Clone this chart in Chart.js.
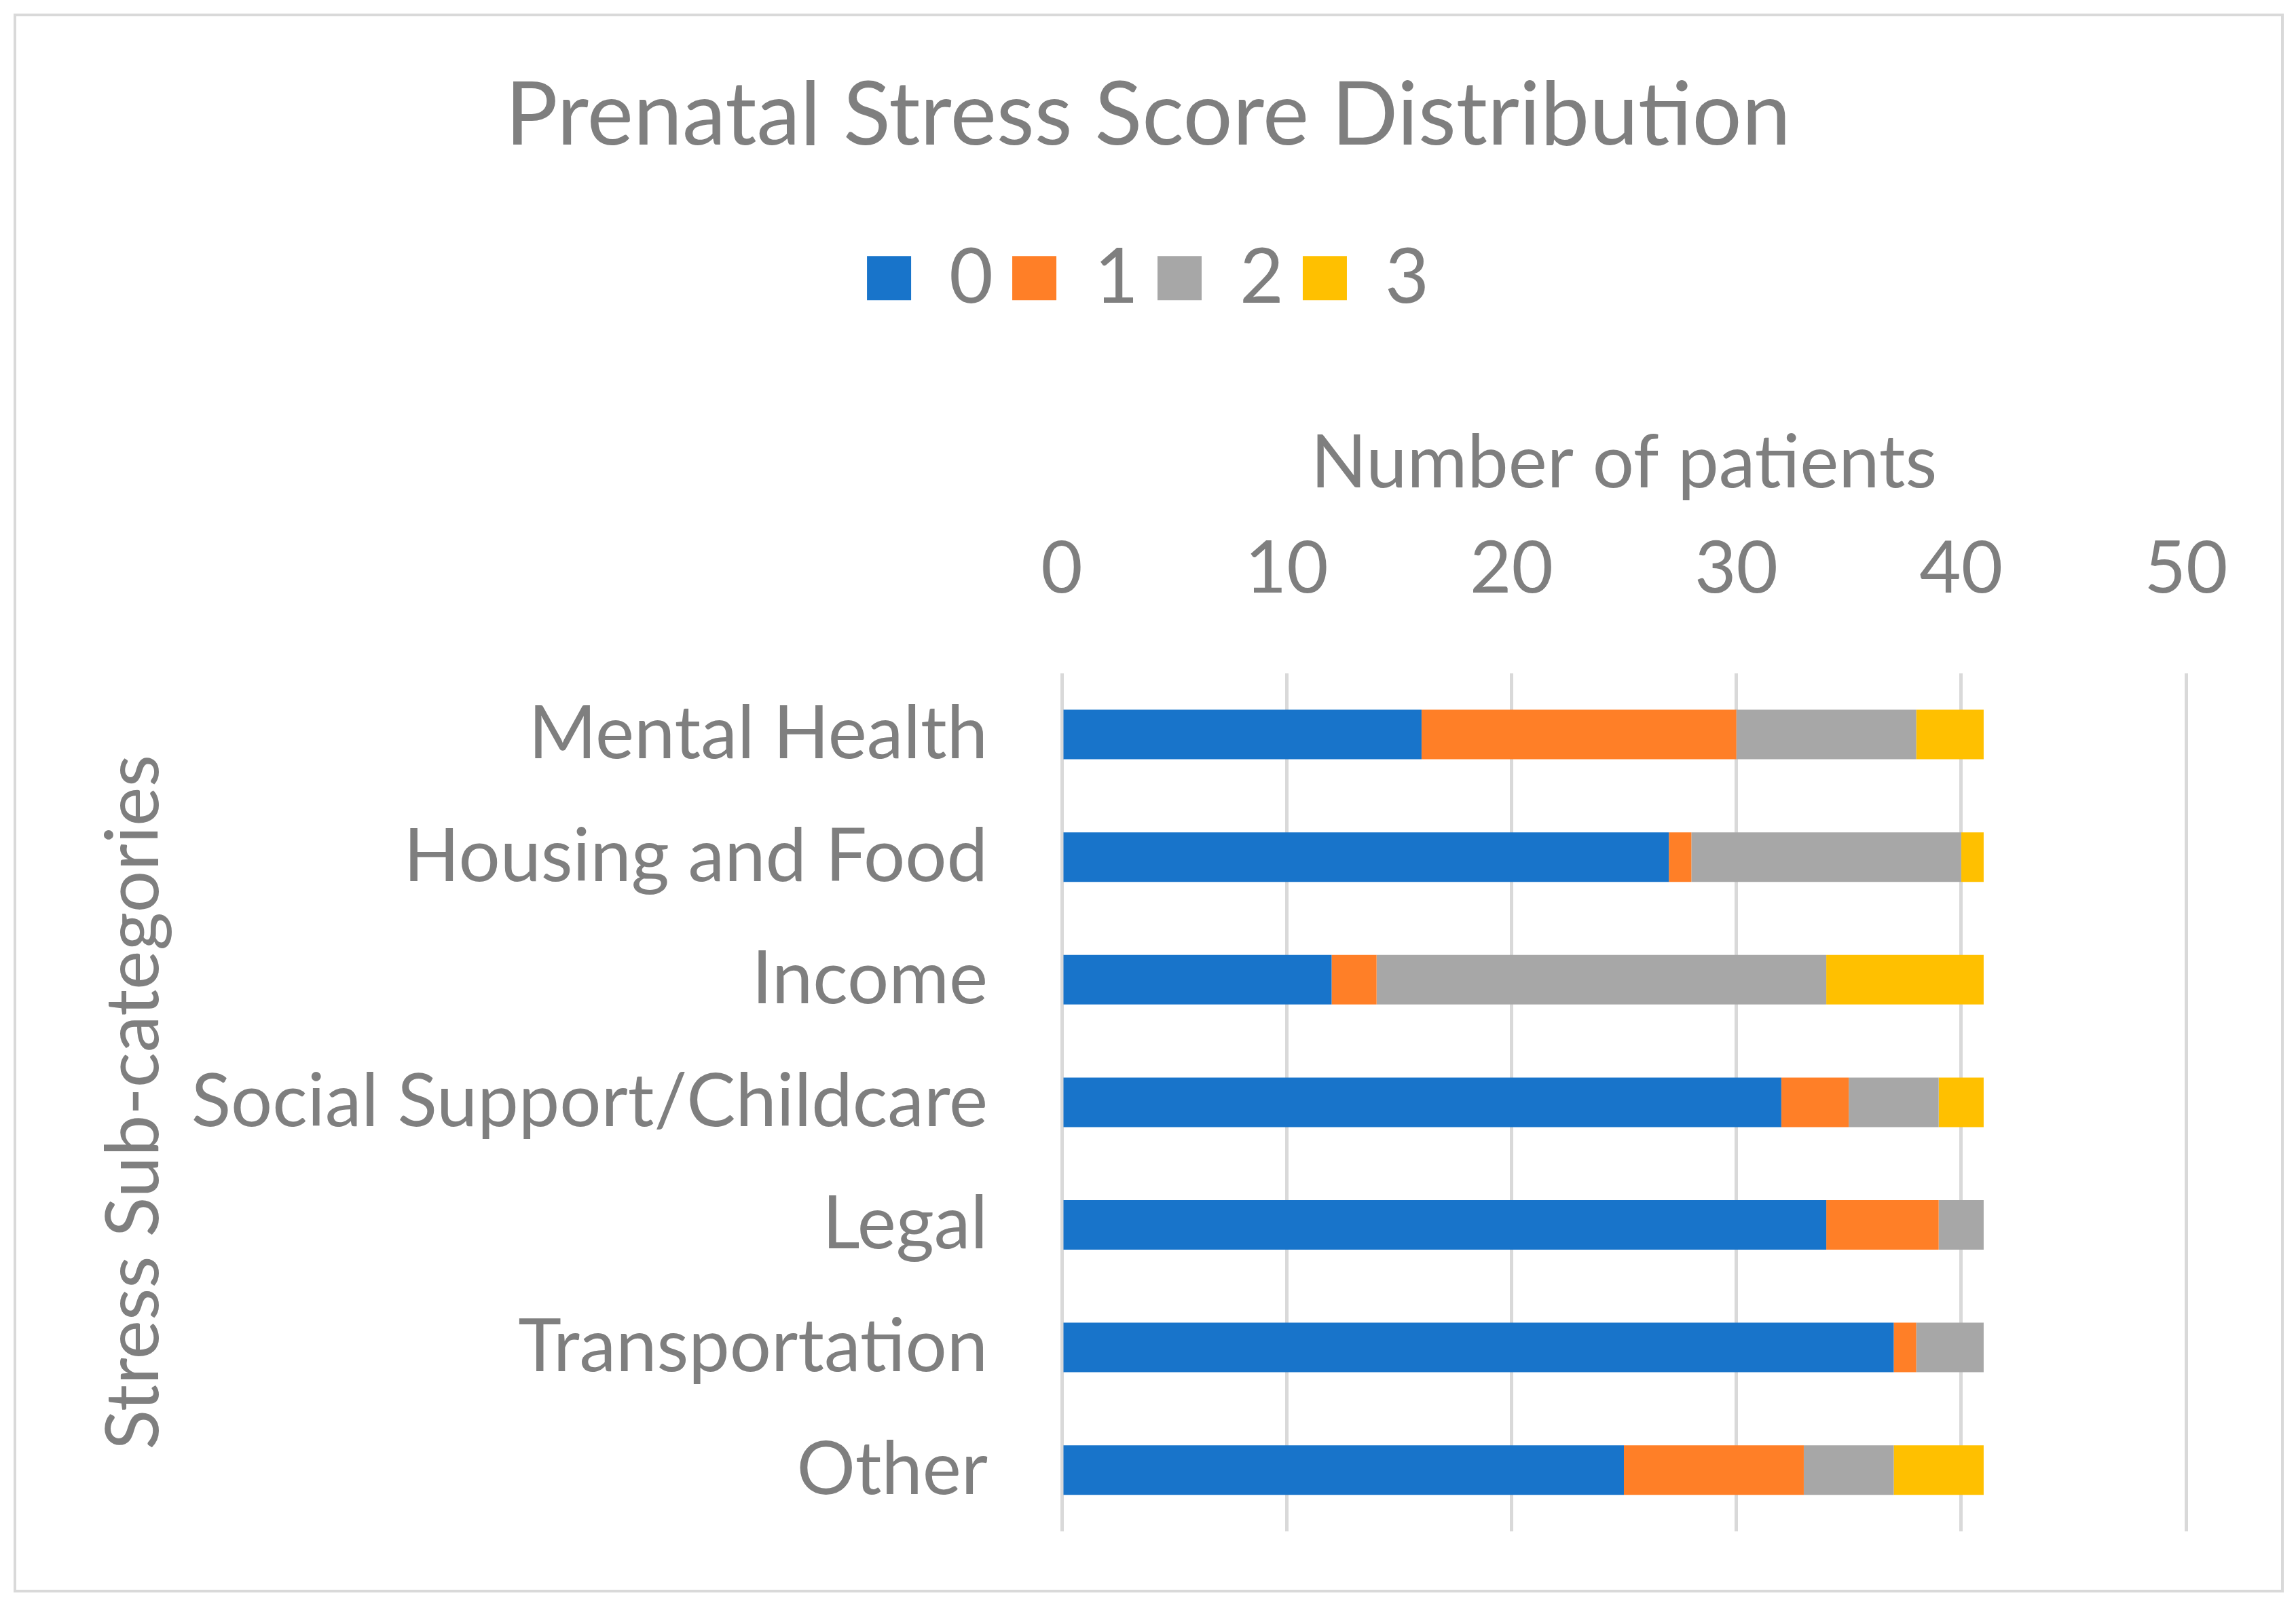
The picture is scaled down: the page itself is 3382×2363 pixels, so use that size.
<!DOCTYPE html>
<html>
<head>
<meta charset="utf-8">
<script src="https://cdn.jsdelivr.net/npm/chart.js@4/dist/chart.umd.min.js"></script>
<style>
  html, body { margin: 0; padding: 0; background: #ffffff; }
  #wrap { position: relative; width: 3382px; height: 2363px; background: #ffffff; }
  #frame { position: absolute; left: 20px; top: 20px; width: 3336px; height: 2318px; border: 4px solid #d9d9d9; pointer-events: none; }
  canvas { position: absolute; left: 0; top: 0; }
</style>
</head>
<body>
<div id="wrap">
  <canvas id="c" width="3382" height="2363"></canvas>
  <div id="frame"></div>
</div>
<script>
const categories = ["Mental Health", "Housing and Food", "Income", "Social Support/Childcare", "Legal", "Transportation", "Other"];
const seriesNames = ["0", "1", "2", "3"];
const score0 = [16, 27, 12, 32, 34, 37, 25];
const score1 = [14, 1, 2, 3, 5, 1, 8];
const score2 = [8, 12, 20, 4, 2, 3, 4];
const score3 = [3, 1, 7, 2, 0, 0, 4];
const xTicks = [0, 10, 20, 30, 40, 50];
const colors = ["#1874CA", "#FF7F27", "#A7A7A7", "#FFC000"];

const TEXT = "#7f7f7f";
const FONT = "Lato";

const seriesValues = [score0, score1, score2, score3];

function noPad(s) { s.paddingTop = 0; s.paddingBottom = 0; }

new Chart(document.getElementById("c"), {
  type: "bar",
  data: {
    labels: categories,
    datasets: seriesNames.map((n, i) => ({
      label: n,
      data: seriesValues[i],
      backgroundColor: colors[i],
      borderWidth: 0,
      barPercentage: 0.404,
      categoryPercentage: 1.0
    }))
  },
  options: {
    indexAxis: "y",
    responsive: false,
    devicePixelRatio: 1,
    animation: false,
    layout: { padding: { top: 0, left: 40, right: 40, bottom: 107 } },
    plugins: {
      tooltip: { enabled: false },
      title: {
        display: true,
        text: "Prenatal Stress Score Distribution",
        color: TEXT,
        font: { family: FONT, size: 129, weight: "normal", lineHeight: 1.2 },
        padding: { top: 94, bottom: 77 }
      },
      legend: {
        display: true,
        position: "top",
        labels: {
          color: TEXT,
          font: { family: FONT, size: 112, weight: "normal" },
          boxWidth: 65,
          boxHeight: 65,
          padding: 28
        }
      }
    },
    scales: {
      x: {
        position: "top",
        stacked: true,
        min: 0,
        max: 50,
        afterBuildTicks: (s) => { s.ticks = xTicks.map(v => ({ value: v })); },
        afterFit: (s) => { s.height = 516; },
        grid: { display: true, color: "#d9d9d9", lineWidth: 5, drawTicks: false },
        border: { display: false },
        ticks: {
          color: TEXT,
          font: { family: FONT, size: 106, weight: "normal", lineHeight: 1.2 },
          padding: 89
        },
        title: {
          display: true,
          text: "Number of patients",
          color: TEXT,
          font: { family: FONT, size: 108, weight: "normal", lineHeight: 1.2 },
          padding: { top: 143, bottom: 25 }
        }
      },
      y: {
        stacked: true,
        afterFit: (s) => { s.width = 1524; noPad(s); },
        grid: { display: false, drawTicks: false },
        border: { display: false },
        ticks: {
          color: TEXT,
          font: { family: FONT, size: 108, weight: "normal", lineHeight: 1.2 },
          padding: 109
        },
        title: {
          display: true,
          text: "Stress Sub-categories",
          color: TEXT,
          font: { family: FONT, size: 109, weight: "normal", lineHeight: 1.2 },
          padding: { top: 92, bottom: 10 }
        }
      },
      yRight: {
        axis: "y",
        type: "category",
        position: "right",
        display: true,
        afterFit: (s) => { s.width = 122; noPad(s); },
        grid: { display: false, drawTicks: false },
        border: { display: false },
        ticks: { display: false }
      }
    }
  }
});
</script>
</body>
</html>
